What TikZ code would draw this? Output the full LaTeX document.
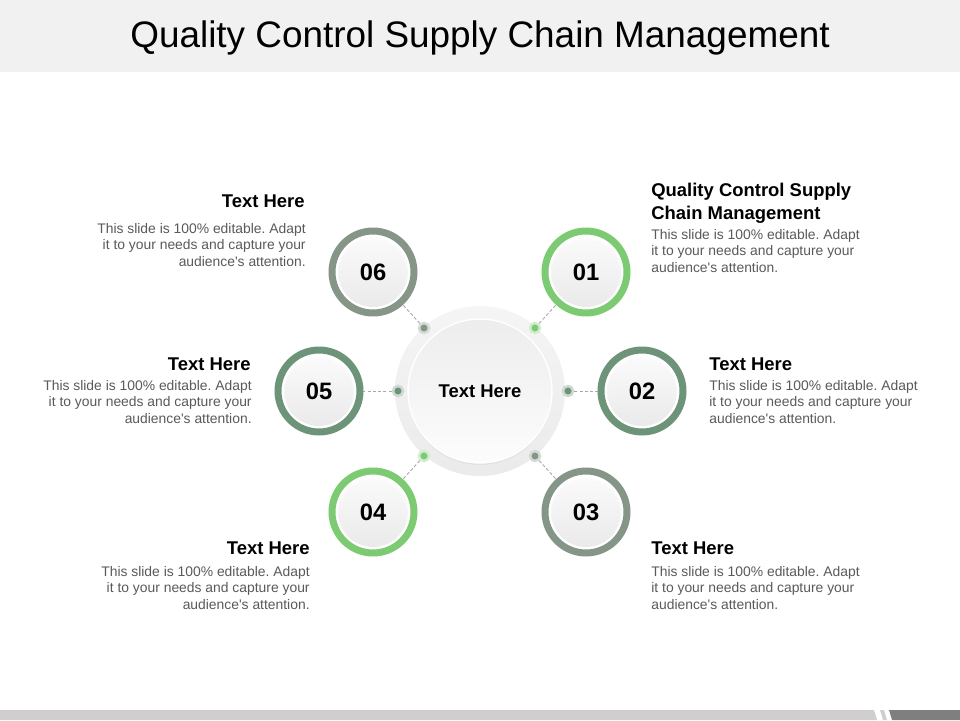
\documentclass[tikz,border=0pt]{standalone}
\usepackage{fontspec}
\setmainfont{Liberation Sans}
\usetikzlibrary{calc,shadows}
\definecolor{titlebg}{HTML}{F1F1F1}
\definecolor{ringgreen}{HTML}{7CCB73}
\definecolor{ringsage}{HTML}{6D9378}
\definecolor{ringgray}{HTML}{859689}
\definecolor{bodygray}{HTML}{5A5A5A}
\definecolor{barlight}{HTML}{D0CECF}
\definecolor{bardark}{HTML}{7F7F7F}
\definecolor{connline}{HTML}{A8A8A8}
\frenchspacing
\newcommand\bodytxt{This slide is 100\% editable. Adapt\\it to your needs and capture your\\audience\textquotesingle s attention.}
\begin{document}
\begin{tikzpicture}[x=0.02cm,y=-0.02cm,
  numring/.style={circle, minimum size=1.64cm, line width=0.14cm, fill=white, inner sep=0pt,
    font=\fontsize{13.5}{15}\selectfont\bfseries,
    path picture={
      \shade[top color=white, bottom color=black!9] (path picture bounding box.center) circle (0.70cm);
      \shade[top color=black!2, bottom color=black!8] (path picture bounding box.center) circle (0.655cm);
    }},
  dotnode/.style={circle, inner sep=0pt, minimum size=0.2cm, fill=#1, draw=#1!35, line width=0.05cm},
  conn/.style={draw=connline, line width=0.5pt, dash pattern=on 1.8pt off 1.2pt},
  head/.style={font=\fontsize{10.5}{13}\selectfont\bfseries, inner sep=0pt, text=black},
  body/.style={font=\fontsize{7.9}{9.35}\selectfont, inner sep=0pt, text=bodygray},
]
\useasboundingbox (0,0) rectangle (960,720);
\fill[white] (0,0) rectangle (960,720);
% title bar
\fill[titlebg] (0,0) rectangle (960,72);
\node[font=\fontsize{21}{24}\selectfont, inner sep=0pt] (title) at (480,38) {Quality\ Control\ Supply\ Chain\ Management};
% bottom bar
\fill[barlight] (0,710) -- (874,710) -- (877,720) -- (0,720) -- cycle;
\fill[barlight] (880,710) -- (884,710) -- (887,720) -- (883,720) -- cycle;
\fill[bardark] (889,710) -- (960,710) -- (960,720) -- (892,720) -- cycle;
% centre
\node[circle, minimum size=3.4cm, inner sep=0pt, top color=black!4, bottom color=black!8] (outer) at (480,391) {};
\node[circle, minimum size=2.88cm, inner sep=0pt, draw=white, line width=0.8pt,
  top color=black!7, bottom color=black!1, drop shadow={opacity=0.12, shadow xshift=0pt, shadow yshift=-1pt},
  font=\fontsize{10.5}{13}\selectfont\bfseries] (centre) at (480,391) {Text Here};
% number rings
\node[numring, draw=ringgreen] (n1) at (586,272) {01};
\node[numring, draw=ringsage]  (n2) at (642,391) {02};
\node[numring, draw=ringgray]  (n3) at (586,512) {03};
\node[numring, draw=ringgreen] (n4) at (373,512) {04};
\node[numring, draw=ringsage]  (n5) at (319,391) {05};
\node[numring, draw=ringgray]  (n6) at (373,272) {06};
% dots
\node[dotnode=ringgreen] (d1) at (535,328) {};
\node[dotnode=ringsage]  (d2) at (568,391) {};
\node[dotnode=ringgray]  (d3) at (535,456) {};
\node[dotnode=ringgreen] (d4) at (424,456) {};
\node[dotnode=ringsage]  (d5) at (398,391) {};
\node[dotnode=ringgray]  (d6) at (424,328) {};
% connectors
\draw[conn] (d1) -- (n1);
\draw[conn] (d2) -- (n2);
\draw[conn] (d3) -- (n3);
\draw[conn] (d4) -- (n4);
\draw[conn] (d5) -- (n5);
\draw[conn] (d6) -- (n6);
% texts right side
\node[head, anchor=north west, align=left] (h1) at (651,183) {Quality Control Supply\\Chain Management};
\node[body, anchor=north west, align=left] (b1) at (651,229) {\bodytxt};
\node[head, anchor=north west] (h2) at (709,357) {Text Here};
\node[body, anchor=north west, align=left] (b2) at (709,380) {\bodytxt};
\node[head, anchor=north west] (h3) at (651,541) {Text Here};
\node[body, anchor=north west, align=left] (b3) at (651,566) {\bodytxt};
% texts left side
\node[head, anchor=north east] (h6) at (305,194) {Text Here};
\node[body, anchor=north east, align=right] (b6) at (306,223) {\bodytxt};
\node[head, anchor=north east] (h5) at (251,357) {Text Here};
\node[body, anchor=north east, align=right] (b5) at (252,380) {\bodytxt};
\node[head, anchor=north east] (h4) at (310,541) {Text Here};
\node[body, anchor=north east, align=right] (b4) at (310,566) {\bodytxt};
\end{tikzpicture}
\end{document}
